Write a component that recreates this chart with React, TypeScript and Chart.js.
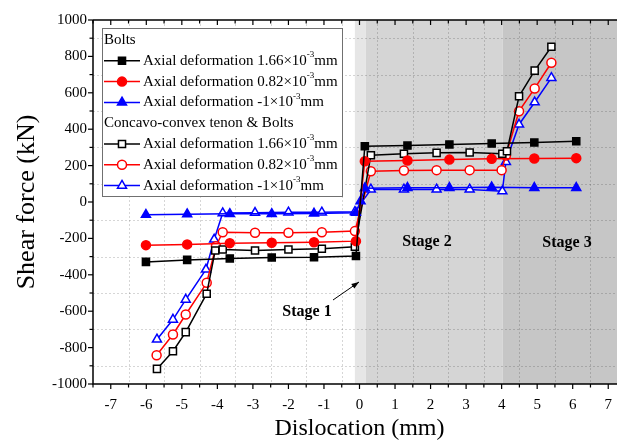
import React, { useEffect, useRef } from 'react';
import { Chart, registerables } from 'chart.js';

Chart.register(...registerables);

const SERIF = '"Liberation Serif", "Times New Roman", serif';

// ---- Data ----
const xTickValues = [-7, -6, -5, -4, -3, -2, -1, 0, 1, 2, 3, 4, 5, 6, 7];
const xTickLabels = ['-7', '-6', '-5', '-4', '-3', '-2', '-1', '0', '1', '2', '3', '4', '5', '6', '7'];
const yTickValues = [-1000, -800, -600, -400, -200, 0, 200, 400, 600, 800, 1000];
const yTickLabels = ['-1000', '-800', '-600', '-400', '-200', '0', '200', '400', '600', '800', '1000'];

// Bolts
const boltsHighX = [-6.01, -4.85, -3.65, -2.47, -1.28, -0.1, 0.15, 1.35, 2.53, 3.72, 4.92, 6.1];
const boltsHighY = [-329, -318, -310, -305, -304, -297, 306, 310, 316, 321, 327, 334];
const boltsMidX = [-6.01, -4.85, -3.65, -2.47, -1.28, -0.1, 0.15, 1.35, 2.53, 3.72, 4.92, 6.1];
const boltsMidY = [-237, -233, -226, -224, -221, -215, 224, 228, 233, 237, 239, 241];
const boltsLowX = [-6.01, -4.85, -3.65, -2.47, -1.28, -0.1, 0.03, 0.15, 1.35, 2.53, 3.72, 4.92, 6.1];
const boltsLowY = [-70, -67, -65, -65, -63, -59, 5, 76, 78, 78, 81, 78, 78];

// Concavo-convex tenon & Bolts
const tenonHighX = [-5.7, -5.25, -4.89, -4.3, -4.06, -3.85, -2.94, -2.0, -1.06, -0.13, 0.32, 1.25, 2.17, 3.1, 4.02, 4.15, 4.49, 4.93, 5.4];
const tenonHighY = [-917, -820, -715, -504, -266, -261, -266, -261, -257, -246, 257, 265, 270, 272, 265, 279, 581, 722, 853];
const tenonMidX = [-5.71, -5.25, -4.89, -4.3, -4.04, -3.85, -2.94, -2.0, -1.06, -0.13, 0.32, 1.25, 2.17, 3.1, 4.0, 4.12, 4.49, 4.93, 5.4];
const tenonMidY = [-842, -728, -618, -444, -243, -166, -169, -169, -166, -160, 169, 173, 175, 175, 175, 255, 499, 624, 765];
const tenonLowX = [-5.7, -5.25, -4.89, -4.32, -4.09, -3.85, -2.94, -2.0, -1.06, -0.13, 0.32, 1.25, 2.17, 3.1, 4.02, 4.12, 4.49, 4.93, 5.4];
const tenonLowY = [-755, -646, -536, -371, -206, -61, -59, -57, -57, -54, 69, 69, 69, 69, 59, 221, 426, 548, 682];

const legendHeadings = ['Bolts', 'Concavo-convex tenon & Bolts'];
const legendValues = ['1.66', '0.82', '-1'];

const BLACK = '#000000';
const RED = '#ff0000';
const BLUE = '#0000ff';

const mk = (xs: number[], ys: number[]) => xs.map((x, i) => ({ x, y: ys[i] }));

type SeriesStyle = { color: string; style: string; filled: boolean; radius: number };
const styles: SeriesStyle[] = [
  { color: BLACK, style: 'rect', filled: true, radius: 5 },
  { color: RED, style: 'circle', filled: true, radius: 4.5 },
  { color: BLUE, style: 'triangle', filled: true, radius: 5.2 },
  { color: BLACK, style: 'rect', filled: false, radius: 5 },
  { color: RED, style: 'circle', filled: false, radius: 4.5 },
  { color: BLUE, style: 'triangle', filled: false, radius: 5.2 },
];

function drawMarker(ctx: CanvasRenderingContext2D, s: SeriesStyle, x: number, y: number) {
  ctx.save();
  ctx.beginPath();
  if (s.style === 'rect') {
    const h = s.radius * Math.SQRT1_2;
    ctx.rect(x - h, y - h, 2 * h, 2 * h);
  } else if (s.style === 'circle') {
    ctx.arc(x, y, s.radius, 0, Math.PI * 2);
  } else {
    const r = s.radius;
    ctx.moveTo(x, y - r);
    ctx.lineTo(x + r * Math.sin(Math.PI / 3), y + r * 0.5);
    ctx.lineTo(x - r * Math.sin(Math.PI / 3), y + r * 0.5);
    ctx.closePath();
  }
  ctx.fillStyle = s.filled ? s.color : '#ffffff';
  ctx.fill();
  ctx.strokeStyle = s.color;
  ctx.lineWidth = 1.5;
  ctx.stroke();
  ctx.restore();
}

const decorPlugin = {
  id: 'decor',
  beforeDatasetsDraw(chart: any) {
    const { ctx, chartArea: ca, scales } = chart;
    const xs = scales.x;
    const ys = scales.y;
    ctx.save();
    const band = (a: number, b: number, color: string) => {
      const x1 = xs.getPixelForValue(a);
      const x2 = xs.getPixelForValue(b);
      ctx.fillStyle = color;
      ctx.fillRect(x1, ca.top, x2 - x1, ca.bottom - ca.top);
    };
    band(-0.13, 0.18, '#e6e6e6');
    band(0.18, 4.03, '#d5d5d5');
    band(4.03, 7.5, '#c6c6c6');

    ctx.setLineDash([2, 2]);
    ctx.strokeStyle = 'rgba(0,0,0,0.16)';
    ctx.lineWidth = 1;
    for (let v = -6.5; v <= 7.0; v += 1) {
      const px = Math.round(xs.getPixelForValue(v)) + 0.5;
      ctx.beginPath();
      ctx.moveTo(px, ca.top);
      ctx.lineTo(px, ca.bottom);
      ctx.stroke();
    }
    for (let v = -900; v <= 900; v += 200) {
      const py = Math.round(ys.getPixelForValue(v)) + 0.5;
      ctx.beginPath();
      ctx.moveTo(ca.left, py);
      ctx.lineTo(ca.right, py);
      ctx.stroke();
    }
    ctx.restore();
  },
  afterDraw(chart: any) {
    const { ctx, chartArea: ca, scales } = chart;
    const xs = scales.x;
    const ys = scales.y;
    ctx.save();
    // axes
    ctx.strokeStyle = '#000';
    ctx.lineWidth = 1.5;
    ctx.beginPath();
    ctx.moveTo(ca.left, ca.top);
    ctx.lineTo(ca.left, ca.bottom);
    ctx.lineTo(ca.right, ca.bottom);
    ctx.moveTo(ca.left, ca.top);
    ctx.lineTo(ca.right, ca.top);
    ctx.stroke();
    // tick marks
    ctx.lineWidth = 1.2;
    for (let i = -15; i <= 15; i++) {
      const v = i / 2;
      const px = xs.getPixelForValue(v);
      const len = i % 2 === 0 ? 5 : 3.5;
      ctx.beginPath();
      ctx.moveTo(px, ca.bottom);
      ctx.lineTo(px, ca.bottom + len);
      ctx.moveTo(px, ca.top);
      ctx.lineTo(px, ca.top + len);
      ctx.stroke();
    }
    for (let i = -10; i <= 10; i++) {
      const v = i * 100;
      const py = ys.getPixelForValue(v);
      const len = i % 2 === 0 ? 5 : 3.5;
      ctx.beginPath();
      ctx.moveTo(ca.left, py);
      ctx.lineTo(ca.left - len, py);
      ctx.stroke();
    }

    // legend
    const bx = 102, by = 28, bw = 240, bh = 168;
    ctx.fillStyle = '#ffffff';
    ctx.fillRect(bx, by, bw, bh);
    ctx.strokeStyle = '#707070';
    ctx.lineWidth = 1;
    ctx.strokeRect(bx + 0.5, by + 0.5, bw, bh);
    const rowH = 20.8;
    const rowY0 = 40;
    ctx.textBaseline = 'middle';
    ctx.textAlign = 'left';
    ctx.fillStyle = '#000';
    const font = `15px ${SERIF}`;
    const supFont = `9px ${SERIF}`;
    let row = 0;
    for (let g = 0; g < 2; g++) {
      const yh = rowY0 + row * rowH;
      ctx.font = font;
      ctx.fillStyle = '#000';
      ctx.fillText(legendHeadings[g], 104, yh);
      row++;
      for (let k = 0; k < 3; k++) {
        const s = styles[g * 3 + k];
        const yy = rowY0 + row * rowH;
        ctx.strokeStyle = s.color;
        ctx.lineWidth = 1.5;
        ctx.beginPath();
        ctx.moveTo(104, yy);
        ctx.lineTo(140, yy);
        ctx.stroke();
        drawMarker(ctx, s, 122, yy);
        ctx.fillStyle = '#000';
        ctx.font = font;
        const t1 = `Axial deformation ${legendValues[k]}\u00d710`;
        ctx.fillText(t1, 143, yy);
        let w = ctx.measureText(t1).width;
        ctx.font = supFont;
        ctx.fillText('-3', 143 + w, yy - 6);
        w += ctx.measureText('-3').width;
        ctx.font = font;
        ctx.fillText('mm', 143 + w, yy);
        row++;
      }
    }

    // stage annotations
    ctx.fillStyle = '#000';
    ctx.font = `bold 16px ${SERIF}`;
    ctx.textAlign = 'center';
    ctx.textBaseline = 'middle';
    ctx.fillText('Stage 1', 307, 312);
    ctx.fillText('Stage 2', 427, 242);
    ctx.fillText('Stage 3', 567, 243);

    // arrow
    const ax1 = 333, ay1 = 300, ax2 = 359, ay2 = 282;
    ctx.strokeStyle = '#000';
    ctx.lineWidth = 1;
    ctx.beginPath();
    ctx.moveTo(ax1, ay1);
    ctx.lineTo(ax2, ay2);
    ctx.stroke();
    const ang = Math.atan2(ay2 - ay1, ax2 - ax1);
    ctx.beginPath();
    ctx.moveTo(ax2, ay2);
    ctx.lineTo(ax2 - 8 * Math.cos(ang - 0.35), ay2 - 8 * Math.sin(ang - 0.35));
    ctx.lineTo(ax2 - 8 * Math.cos(ang + 0.35), ay2 - 8 * Math.sin(ang + 0.35));
    ctx.closePath();
    ctx.fill();
    ctx.restore();
  },
};

export default function App() {
  const canvasRef = useRef<HTMLCanvasElement | null>(null);

  useEffect(() => {
    if (!canvasRef.current) return;
    const series = [
      mk(boltsHighX, boltsHighY),
      mk(boltsMidX, boltsMidY),
      mk(boltsLowX, boltsLowY),
      mk(tenonHighX, tenonHighY),
      mk(tenonMidX, tenonMidY),
      mk(tenonLowX, tenonLowY),
    ];
    const labels = [
      'Bolts 1.66', 'Bolts 0.82', 'Bolts -1',
      'Tenon 1.66', 'Tenon 0.82', 'Tenon -1',
    ];
    const datasets = series.map((data, i) => {
      const s = styles[i];
      return {
        label: labels[i],
        data,
        borderColor: s.color,
        backgroundColor: s.color,
        borderWidth: 1.5,
        pointStyle: s.style,
        pointRadius: s.radius,
        pointBorderWidth: 1.5,
        pointBorderColor: s.color,
        pointBackgroundColor: s.filled ? s.color : '#ffffff',
        tension: 0,
        fill: false,
      };
    });
    const tickFont = { family: SERIF, size: 15 };
    const chart = new Chart(canvasRef.current, {
      type: 'line',
      data: { datasets: datasets as any },
      plugins: [decorPlugin],
      options: {
        animation: false,
        responsive: false,
        events: [],
        layout: { padding: { top: 20, right: 14, left: 0, bottom: 0 } },
        plugins: { legend: { display: false }, tooltip: { enabled: false } },
        scales: {
          x: {
            type: 'linear',
            min: -7.5,
            max: 7.5,
            afterFit: (s: any) => { s.height = 57; },
            afterBuildTicks: (s: any) => { s.ticks = xTickValues.map((v) => ({ value: v })); },
            grid: { display: false, drawTicks: false },
            border: { display: false },
            ticks: {
              font: tickFont,
              color: '#000',
              padding: 12,
              autoSkip: false,
              maxRotation: 0,
              callback: (v: any) => { const i = xTickValues.indexOf(Number(v)); return i >= 0 ? xTickLabels[i] : ''; },
            },
            title: {
              display: true,
              text: 'Dislocation (mm)',
              color: '#000',
              font: { family: SERIF, size: 24, lineHeight: 1 },
              padding: 0,
            },
          },
          y: {
            type: 'linear',
            min: -1000,
            max: 1000,
            afterFit: (s: any) => { s.width = 93; },
            afterBuildTicks: (s: any) => { s.ticks = yTickValues.map((v) => ({ value: v })); },
            grid: { display: false, drawTicks: false },
            border: { display: false },
            ticks: {
              font: tickFont,
              color: '#000',
              padding: 6,
              autoSkip: false,
              callback: (v: any) => { const i = yTickValues.indexOf(Number(v)); return i >= 0 ? yTickLabels[i] : ''; },
            },
            title: {
              display: true,
              text: 'Shear force (kN)',
              color: '#000',
              font: { family: SERIF, size: 26, lineHeight: 1 },
              padding: { top: 14, bottom: 0 },
            },
          },
        },
      } as any,
    });
    return () => chart.destroy();
  }, []);

  return (
    <div style={{ position: 'fixed', left: 0, top: 0, width: 617, height: 441, overflow: 'hidden', background: '#fff' }}>
      <canvas ref={canvasRef} width={640} height={441} style={{ display: 'block' }} />
    </div>
  );
}
